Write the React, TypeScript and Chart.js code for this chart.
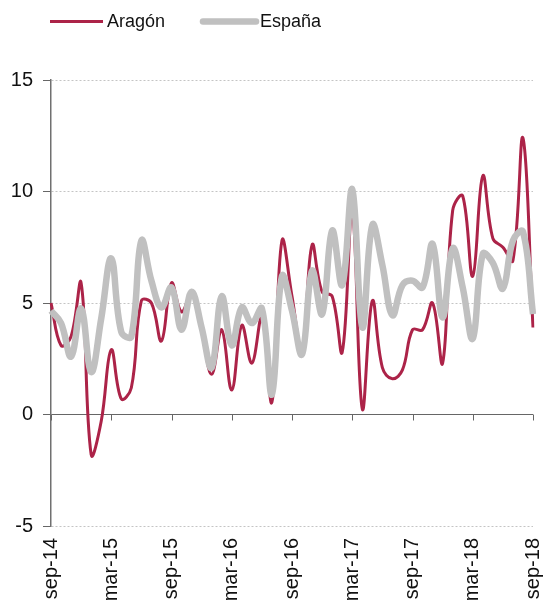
import React, { useEffect, useRef } from "react";
import { Chart, registerables } from "chart.js";

Chart.register(...registerables);

const categories = [
  "sep-14", "oct-14", "nov-14", "dic-14", "ene-15", "feb-15", "mar-15", "abr-15", "may-15", "jun-15", "jul-15", "ago-15",
  "sep-15", "oct-15", "nov-15", "dic-15", "ene-16", "feb-16", "mar-16", "abr-16", "may-16", "jun-16", "jul-16", "ago-16",
  "sep-16", "oct-16", "nov-16", "dic-16", "ene-17", "feb-17", "mar-17", "abr-17", "may-17", "jun-17", "jul-17", "ago-17",
  "sep-17", "oct-17", "nov-17", "dic-17", "ene-18", "feb-18", "mar-18", "abr-18", "may-18", "jun-18", "jul-18", "ago-18",
  "sep-18",
];

const tickLabels = ["sep-14", "mar-15", "sep-15", "mar-16", "sep-16", "mar-17", "sep-17", "mar-18", "sep-18"];

const aragon = [
  5.0, 3.1, 3.5, 5.9, -1.8, -0.3, 2.9, 0.7, 1.2, 5.1, 5.0, 3.3,
  5.9, 4.6, 5.4, 3.8, 1.8, 3.8, 1.1, 4.0, 2.3, 4.35, 0.55, 7.8,
  5.3, 2.8, 7.6, 5.5, 5.3, 2.8, 9.1, 0.25, 5.1, 2.1, 1.6, 2.0,
  3.8, 3.8, 5.0, 2.3, 9.15, 9.8, 6.2, 10.7, 7.9, 7.5, 6.9, 12.4,
  3.9,
];

const espana = [
  4.65, 4.1, 2.6, 4.75, 1.9, 4.3, 7.0, 3.7, 3.5, 7.8, 6.0, 4.8,
  5.7, 3.8, 5.5, 3.9, 2.1, 5.3, 3.1, 4.8, 4.1, 4.75, 0.9, 6.2,
  4.65, 2.7, 6.45, 4.5, 8.25, 5.8, 10.1, 3.9, 8.5, 6.7, 4.45, 5.8,
  6.0, 5.7, 7.65, 4.35, 7.45, 5.7, 3.4, 7.2, 6.8, 5.65, 7.8, 8.2,
  4.5,
];

const yTicks = [-5, 0, 5, 10, 15];

const RED = "#AC2348";
const GREY = "#C0C0C0";
const FONT = "'Liberation Sans', Arial, sans-serif";

const legendPlugin = {
  id: "customLegend",
  afterDraw(chart: any) {
    const ctx = chart.ctx;
    const items = [
      { text: "Aragón", color: RED, width: 3, cap: "butt", x: 50 },
      { text: "España", color: GREY, width: 6.5, cap: "round", x: 203 },
    ];
    ctx.save();
    const y = 21.5;
    items.forEach((it) => {
      ctx.beginPath();
      ctx.strokeStyle = it.color;
      ctx.lineWidth = it.width;
      ctx.lineCap = it.cap;
      ctx.moveTo(it.x, y);
      ctx.lineTo(it.x + 53, y);
      ctx.stroke();
      ctx.fillStyle = "#111";
      ctx.font = `18px ${FONT}`;
      ctx.textBaseline = "middle";
      ctx.textAlign = "left";
      ctx.fillText(it.text, it.x + 57, y + 1);
    });
    ctx.restore();
  },
};

const zeroTicksPlugin = {
  id: "zeroTicks",
  beforeDatasetsDraw(chart: any) {
    const ctx = chart.ctx;
    const xs = chart.scales.x;
    const ys = chart.scales.y;
    const y0 = ys.getPixelForValue(0);
    ctx.save();
    ctx.strokeStyle = "#666";
    ctx.lineWidth = 1;
    categories.forEach((c, i) => {
      if (tickLabels.includes(c)) {
        const x = Math.round(xs.getPixelForValue(i)) + 0.5;
        ctx.beginPath();
        ctx.moveTo(x, y0);
        ctx.lineTo(x, y0 + 6);
        ctx.stroke();
      }
    });
    ctx.restore();
  },
};

export default function App() {
  const ref = useRef<HTMLCanvasElement>(null);

  useEffect(() => {
    if (!ref.current) return;
    const chart = new Chart(ref.current, {
      type: "line",
      data: {
        labels: categories,
        datasets: [
          {
            label: "Aragón",
            data: aragon,
            borderColor: RED,
            backgroundColor: RED,
            borderWidth: 3,
            pointRadius: 0,
            tension: 0.4,
            order: 1,
          },
          {
            label: "España",
            data: espana,
            borderColor: GREY,
            backgroundColor: GREY,
            borderWidth: 6.5,
            pointRadius: 0,
            tension: 0.4,
            order: 0,
          },
        ],
      },
      options: {
        animation: false,
        responsive: true,
        maintainAspectRatio: false,
        layout: { padding: { top: 80, right: 10, left: 0, bottom: 0 } },
        plugins: {
          legend: { display: false },
          tooltip: { enabled: false },
        },
        scales: {
          x: {
            type: "category",
            offset: false,
            grid: { display: false, drawTicks: false },
            border: { display: false },
            ticks: {
              autoSkip: false,
              maxRotation: 90,
              minRotation: 90,
              padding: 12,
              color: "#111",
              font: { family: FONT, size: 20 },
              callback: (_v: any, i: number) => (tickLabels.includes(categories[i]) ? categories[i] : null),
            },
            afterFit: (s: any) => {
              s.height = 80;
              s.paddingLeft = 0;
              s.paddingRight = 0;
            },
          },
          y: {
            min: yTicks[0],
            max: yTicks[yTicks.length - 1],
            afterBuildTicks: (s: any) => {
              s.ticks = yTicks.map((v) => ({ value: v }));
            },
            grid: {
              color: (c: any) => (c.tick && c.tick.value === 0 ? "#666" : "#c4c4c4"),
              lineWidth: 1,
              tickColor: "#666",
              tickLength: 8,
              tickBorderDash: [],
            },
            border: {
              display: true,
              color: "#707070",
              width: 1.5,
              dash: (c: any) => (c.tick && c.tick.value === 0 ? [] : [2, 2]),
            },
            ticks: {
              padding: 10,
              color: "#111",
              font: { family: FONT, size: 20 },
            },
            afterFit: (s: any) => {
              s.width = 51;
              s.paddingTop = 0;
              s.paddingBottom = 0;
            },
          },
        },
      },
      plugins: [legendPlugin, zeroTicksPlugin],
    });
    return () => chart.destroy();
  }, []);

  return (
    <div style={{ position: "absolute", left: 0, top: 0, width: 543, height: 606 }}>
      <canvas ref={ref} />
    </div>
  );
}
